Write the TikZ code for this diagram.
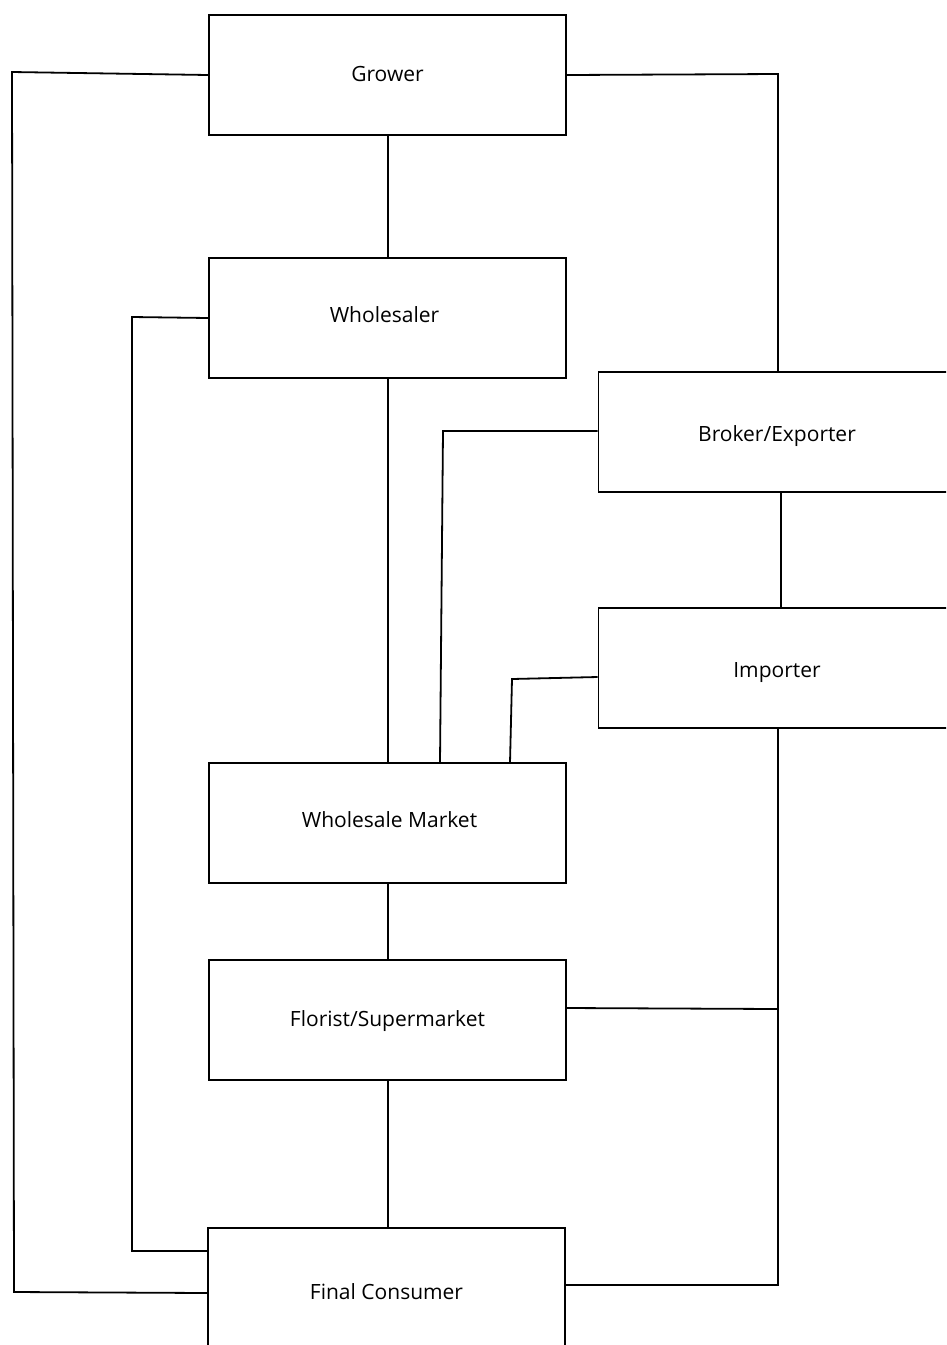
\documentclass[tikz,border=0pt]{standalone}
\usepackage{fontspec}
\setmainfont{Open Sans}
\begin{document}
\begin{tikzpicture}[x=1pt,y=-1pt,
  box/.style={draw=black,line width=1.8pt,minimum width=357pt,minimum height=120pt,inner sep=0pt,text height=0.75em,text depth=0.25em,font=\fontsize{21}{24}\selectfont},
  conn/.style={draw=black,line width=1.8pt,line join=miter}]
\useasboundingbox (0,0) rectangle (946,1345);
\clip (0,0) rectangle (946,1345);
\fill[white] (0,0) rectangle (946,1345);
\node[box] (grower) at (387.5,75) {\raisebox{-4pt}{Grower}};
\node[box] (wholesaler) at (387.5,318) {\raisebox{-2pt}{Wholesaler\hspace{6pt}}};
\node[box] (broker) at (777,432) {\raisebox{-7pt}{Broker/Exporter}};
\node[box] (importer) at (777,668) {\raisebox{-7pt}{Importer}};
\node[box] (wmarket) at (387.5,823) {\raisebox{-2pt}{\hspace{4pt}Wholesale Market}};
\node[box] (florist) at (387.5,1020) {\raisebox{-4pt}{Florist/Supermarket}};
\node[box] (consumer) at (386.5,1288) {\raisebox{-9pt}{Final Consumer}};
\coordinate (c1) at (12,72);
\coordinate (c2) at (14,1292);
\coordinate (c3) at (778,74);
\coordinate (c4) at (132,317);
\coordinate (c5) at (132,1251);
\coordinate (c6) at (443,431);
\coordinate (c7) at (512,679);
\coordinate (c8) at (778,1009);
\coordinate (c9) at (778,1285);
\draw[conn] ([xshift=0.5pt]grower.south) -- ([xshift=0.5pt]wholesaler.north);
\draw[conn] (grower.west) -- (c1) -- (c2) -- ([yshift=-5pt]consumer.west);
\draw[conn] (grower.east) -- (c3) -- (c3 |- broker.north);
\draw[conn] (wholesaler.west) -- (c4) -- (c5) -- ([yshift=37pt]consumer.west);
\draw[conn] ([xshift=0.5pt]wholesaler.south) -- ([xshift=0.5pt]wholesaler.south |- wmarket.north);
\draw[conn] ([yshift=1pt]broker.west) -- (c6) -- (440,763);
\draw[conn] ([xshift=4pt]broker.south) -- ([xshift=4pt]importer.north);
\draw[conn] ([yshift=-9pt]importer.west) -- (c7) -- (510,763);
\draw[conn] ([xshift=1pt]importer.south) -- (c9) -- ([yshift=3pt]consumer.east);
\draw[conn] ([yshift=12pt]florist.east) -- (c8);
\draw[conn] ([xshift=0.5pt]wmarket.south) -- ([xshift=0.5pt]florist.north);
\draw[conn] ([xshift=0.5pt]florist.south) -- ([xshift=0.5pt]florist.south |- consumer.north);
\end{tikzpicture}
\end{document}
